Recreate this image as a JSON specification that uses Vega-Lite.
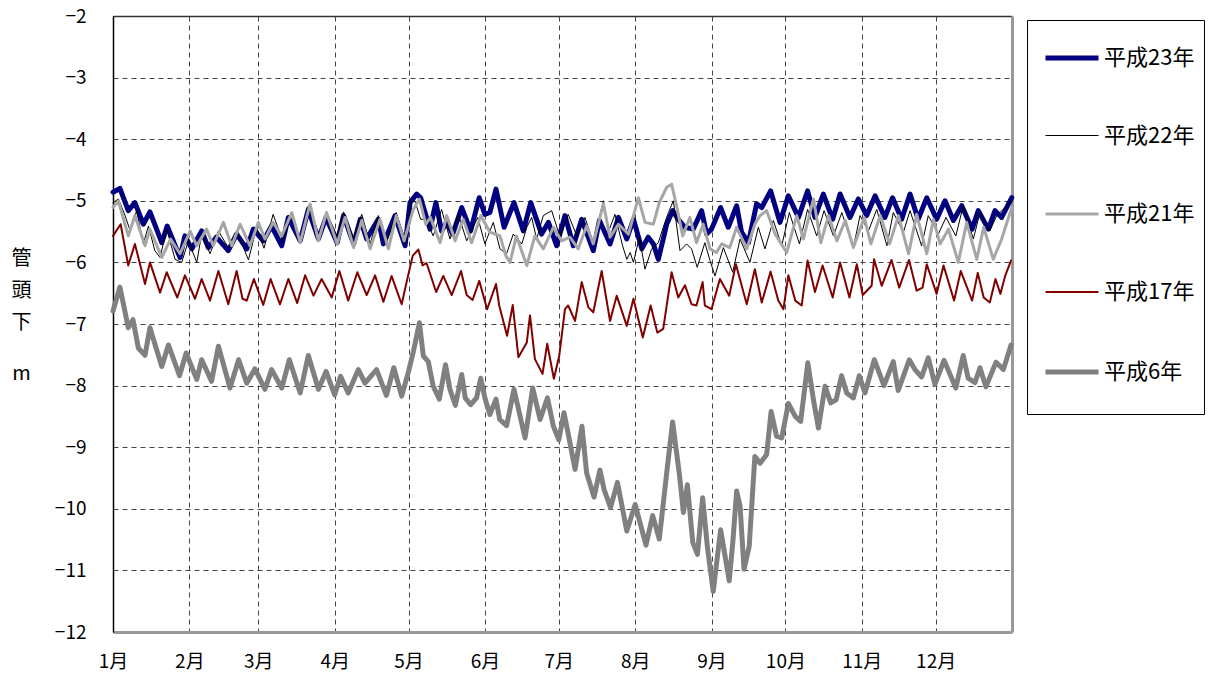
{
"$schema": "https://vega.github.io/schema/vega-lite/v6.json",
"autosize": "none",
"width": 899,
"height": 616,
"padding": {"left": 113, "top": 16, "right": 212, "bottom": 50},
"background": "white",
"config": {
  "view": {"stroke": null},
  "legend": {"padding": 9, "strokeColor": "black", "fillColor": "white", "symbolType": "stroke", "symbolSize": 2809, "labelFont": "Noto Sans CJK JP", "labelFontSize": 22, "labelColor": "black", "labelOffset": 3, "rowPadding": 39.5, "symbolOffset": 7, "labelLimit": 200, "cornerRadius": 0, "strokeWidth": 1, "titleOrient": "bottom", "titleFont": "Noto Sans CJK JP", "titleFontSize": 12.4, "titlePadding": 9}
},
"data": {"values": [
{"s":"平成23年","d":0,"v":-4.86},{"s":"平成23年","d":2.8,"v":-4.8},{"s":"平成23年","d":6.2,"v":-5.16},{"s":"平成23年","d":8.9,"v":-5.03},{"s":"平成23年","d":12.3,"v":-5.38},{"s":"平成23年","d":15,"v":-5.18},{"s":"平成23年","d":19.8,"v":-5.68},{"s":"平成23年","d":22,"v":-5.41},{"s":"平成23年","d":27.2,"v":-5.92},{"s":"平成23年","d":29.2,"v":-5.57},{"s":"平成23年","d":32,"v":-5.78},{"s":"平成23年","d":36,"v":-5.49},{"s":"平成23年","d":38.7,"v":-5.76},{"s":"平成23年","d":42,"v":-5.59},{"s":"平成23年","d":46.8,"v":-5.81},{"s":"平成23年","d":50.2,"v":-5.54},{"s":"平成23年","d":54.3,"v":-5.78},{"s":"平成23年","d":57,"v":-5.46},{"s":"平成23年","d":61,"v":-5.65},{"s":"平成23年","d":64.4,"v":-5.41},{"s":"平成23年","d":68.5,"v":-5.73},{"s":"平成23年","d":71.2,"v":-5.27},{"s":"平成23年","d":76,"v":-5.65},{"s":"平成23年","d":79.3,"v":-5.14},{"s":"平成23年","d":83.4,"v":-5.62},{"s":"平成23年","d":86.5,"v":-5.27},{"s":"平成23年","d":91,"v":-5.68},{"s":"平成23年","d":93.6,"v":-5.24},{"s":"平成23年","d":97.7,"v":-5.7},{"s":"平成23年","d":100.4,"v":-5.3},{"s":"平成23年","d":103,"v":-5.62},{"s":"平成23年","d":107.7,"v":-5.3},{"s":"平成23年","d":109.8,"v":-5.7},{"s":"平成23年","d":114.5,"v":-5.24},{"s":"平成23年","d":118.6,"v":-5.73},{"s":"平成23年","d":120.6,"v":-5.03},{"s":"平成23年","d":123.3,"v":-4.89},{"s":"平成23年","d":124.9,"v":-4.95},{"s":"平成23年","d":126.7,"v":-5.19},{"s":"平成23年","d":128.7,"v":-5.46},{"s":"平成23年","d":131.1,"v":-5.03},{"s":"平成23年","d":133.4,"v":-5.49},{"s":"平成23年","d":135.5,"v":-5.35},{"s":"平成23年","d":137.9,"v":-5.54},{"s":"平成23年","d":141.6,"v":-5.11},{"s":"平成23年","d":145.2,"v":-5.49},{"s":"平成23年","d":148.7,"v":-4.95},{"s":"平成23年","d":151,"v":-5.22},{"s":"平成23年","d":153,"v":-5.19},{"s":"平成23年","d":155.5,"v":-4.81},{"s":"平成23年","d":158.8,"v":-5.43},{"s":"平成23年","d":162.8,"v":-5.03},{"s":"平成23年","d":166.6,"v":-5.49},{"s":"平成23年","d":169.6,"v":-5.03},{"s":"平成23年","d":174,"v":-5.54},{"s":"平成23年","d":176.8,"v":-5.35},{"s":"平成23年","d":180.1,"v":-5.73},{"s":"平成23年","d":183.5,"v":-5.24},{"s":"平成23年","d":186.9,"v":-5.73},{"s":"平成23年","d":190.3,"v":-5.3},{"s":"平成23年","d":195,"v":-5.81},{"s":"平成23年","d":197.5,"v":-5.32},{"s":"平成23年","d":201.8,"v":-5.7},{"s":"平成23年","d":205.2,"v":-5.27},{"s":"平成23年","d":208.6,"v":-5.62},{"s":"平成23年","d":211.3,"v":-5.3},{"s":"平成23年","d":214.7,"v":-5.78},{"s":"平成23年","d":217.3,"v":-5.59},{"s":"平成23年","d":219.4,"v":-5.7},{"s":"平成23年","d":221.4,"v":-5.95},{"s":"平成23年","d":223.4,"v":-5.62},{"s":"平成23年","d":224.8,"v":-5.38},{"s":"平成23年","d":227.2,"v":-5.16},{"s":"平成23年","d":229.5,"v":-5.3},{"s":"平成23年","d":232.2,"v":-5.43},{"s":"平成23年","d":235.6,"v":-5.46},{"s":"平成23年","d":239,"v":-5.16},{"s":"平成23年","d":241,"v":-5.54},{"s":"平成23年","d":243,"v":-5.46},{"s":"平成23年","d":246.7,"v":-5.11},{"s":"平成23年","d":249.8,"v":-5.43},{"s":"平成23年","d":253.2,"v":-5.08},{"s":"平成23年","d":255.2,"v":-5.51},{"s":"平成23年","d":258,"v":-5.68},{"s":"平成23年","d":261.3,"v":-5.05},{"s":"平成23年","d":263.4,"v":-5.11},{"s":"平成23年","d":267,"v":-4.84},{"s":"平成23年","d":270.8,"v":-5.35},{"s":"平成23年","d":274.2,"v":-4.92},{"s":"平成23年","d":278.3,"v":-5.27},{"s":"平成23年","d":282,"v":-4.84},{"s":"平成23年","d":285,"v":-5.27},{"s":"平成23年","d":288.4,"v":-4.89},{"s":"平成23年","d":292.2,"v":-5.3},{"s":"平成23年","d":295.2,"v":-4.89},{"s":"平成23年","d":299.2,"v":-5.27},{"s":"平成23年","d":302.6,"v":-4.97},{"s":"平成23年","d":306,"v":-5.24},{"s":"平成23年","d":309.4,"v":-4.92},{"s":"平成23年","d":313.4,"v":-5.27},{"s":"平成23年","d":316.5,"v":-4.95},{"s":"平成23年","d":320.2,"v":-5.3},{"s":"平成23年","d":323.6,"v":-4.89},{"s":"平成23年","d":326.9,"v":-5.3},{"s":"平成23年","d":330.4,"v":-4.95},{"s":"平成23年","d":334.4,"v":-5.3},{"s":"平成23年","d":337.8,"v":-5.0},{"s":"平成23年","d":341.2,"v":-5.32},{"s":"平成23年","d":344.6,"v":-5.08},{"s":"平成23年","d":348.8,"v":-5.46},{"s":"平成23年","d":351.3,"v":-5.16},{"s":"平成23年","d":355.4,"v":-5.46},{"s":"平成23年","d":358.1,"v":-5.16},{"s":"平成23年","d":360.8,"v":-5.27},{"s":"平成23年","d":364.9,"v":-4.95},
{"s":"平成22年","d":0,"v":-5.03},{"s":"平成22年","d":2.2,"v":-4.97},{"s":"平成22年","d":4.9,"v":-5.24},{"s":"平成22年","d":7,"v":-5.49},{"s":"平成22年","d":9.6,"v":-5.16},{"s":"平成22年","d":12.3,"v":-5.7},{"s":"平成22年","d":14.4,"v":-5.41},{"s":"平成22年","d":17,"v":-5.81},{"s":"平成22年","d":19.1,"v":-5.92},{"s":"平成22年","d":21.8,"v":-5.46},{"s":"平成22年","d":25.2,"v":-5.95},{"s":"平成22年","d":27.9,"v":-6.0},{"s":"平成22年","d":30.6,"v":-5.65},{"s":"平成22年","d":34,"v":-6.0},{"s":"平成22年","d":36,"v":-5.54},{"s":"平成22年","d":39.4,"v":-5.86},{"s":"平成22年","d":42.8,"v":-5.49},{"s":"平成22年","d":46.8,"v":-5.76},{"s":"平成22年","d":50.2,"v":-5.49},{"s":"平成22年","d":55,"v":-5.96},{"s":"平成22年","d":58.3,"v":-5.43},{"s":"平成22年","d":61.3,"v":-5.77},{"s":"平成22年","d":65,"v":-5.22},{"s":"平成22年","d":68.9,"v":-5.65},{"s":"平成22年","d":72.6,"v":-5.19},{"s":"平成22年","d":76,"v":-5.65},{"s":"平成22年","d":79.3,"v":-5.08},{"s":"平成22年","d":83.4,"v":-5.59},{"s":"平成22年","d":86.7,"v":-5.19},{"s":"平成22年","d":91,"v":-5.57},{"s":"平成22年","d":93.6,"v":-5.18},{"s":"平成22年","d":97.7,"v":-5.62},{"s":"平成22年","d":101,"v":-5.22},{"s":"平成22年","d":104.4,"v":-5.7},{"s":"平成22年","d":107.7,"v":-5.24},{"s":"平成22年","d":111,"v":-5.68},{"s":"平成22年","d":115,"v":-5.19},{"s":"平成22年","d":118.6,"v":-5.7},{"s":"平成22年","d":121.3,"v":-5.03},{"s":"平成22年","d":122.6,"v":-5.0},{"s":"平成22年","d":124.9,"v":-5.3},{"s":"平成22年","d":127,"v":-5.3},{"s":"平成22年","d":130,"v":-5.57},{"s":"平成22年","d":133.4,"v":-5.14},{"s":"平成22年","d":136.8,"v":-5.62},{"s":"平成22年","d":140.2,"v":-5.22},{"s":"平成22年","d":143.6,"v":-5.65},{"s":"平成22年","d":148.1,"v":-5.27},{"s":"平成22年","d":151,"v":-5.7},{"s":"平成22年","d":154.4,"v":-5.35},{"s":"平成22年","d":157.1,"v":-5.78},{"s":"平成22年","d":159.8,"v":-5.86},{"s":"平成22年","d":162.5,"v":-5.54},{"s":"平成22年","d":166,"v":-5.7},{"s":"平成22年","d":168,"v":-5.43},{"s":"平成22年","d":170,"v":-5.27},{"s":"平成22年","d":172,"v":-5.62},{"s":"平成22年","d":174.7,"v":-5.24},{"s":"平成22年","d":178.1,"v":-5.16},{"s":"平成22年","d":181.5,"v":-5.59},{"s":"平成22年","d":184.8,"v":-5.22},{"s":"平成22年","d":188.3,"v":-5.57},{"s":"平成22年","d":191.6,"v":-5.27},{"s":"平成22年","d":195,"v":-5.68},{"s":"平成22年","d":199.1,"v":-5.0},{"s":"平成22年","d":201.1,"v":-5.51},{"s":"平成22年","d":203.8,"v":-5.22},{"s":"平成22年","d":206.9,"v":-5.73},{"s":"平成22年","d":208.6,"v":-5.95},{"s":"平成22年","d":210,"v":-5.84},{"s":"平成22年","d":211.3,"v":-6.0},{"s":"平成22年","d":213.7,"v":-5.59},{"s":"平成22年","d":216,"v":-6.11},{"s":"平成22年","d":218.7,"v":-5.78},{"s":"平成22年","d":221.4,"v":-5.68},{"s":"平成22年","d":223.4,"v":-5.43},{"s":"平成22年","d":225.5,"v":-5.19},{"s":"平成22年","d":227.5,"v":-5.0},{"s":"平成22年","d":230.2,"v":-5.81},{"s":"平成22年","d":232.9,"v":-5.7},{"s":"平成22年","d":234.9,"v":-5.78},{"s":"平成22年","d":237.2,"v":-6.08},{"s":"平成22年","d":240.3,"v":-5.68},{"s":"平成22年","d":242.4,"v":-5.97},{"s":"平成22年","d":244.4,"v":-6.22},{"s":"平成22年","d":247.8,"v":-5.76},{"s":"平成22年","d":251.6,"v":-6.16},{"s":"平成22年","d":254.6,"v":-5.62},{"s":"平成22年","d":258.6,"v":-6.0},{"s":"平成22年","d":262,"v":-5.43},{"s":"平成22年","d":264.7,"v":-5.78},{"s":"平成22年","d":268.1,"v":-5.32},{"s":"平成22年","d":271.5,"v":-5.73},{"s":"平成22年","d":274.6,"v":-5.19},{"s":"平成22年","d":278.7,"v":-5.7},{"s":"平成22年","d":282,"v":-5.14},{"s":"平成22年","d":285.7,"v":-5.57},{"s":"平成22年","d":288.7,"v":-5.16},{"s":"平成22年","d":292.5,"v":-5.57},{"s":"平成22年","d":295.9,"v":-5.19},{"s":"平成22年","d":300.6,"v":-5.76},{"s":"平成22年","d":303.3,"v":-5.24},{"s":"平成22年","d":306.7,"v":-5.49},{"s":"平成22年","d":310.1,"v":-5.14},{"s":"平成22年","d":314.2,"v":-5.73},{"s":"平成22年","d":316.8,"v":-5.19},{"s":"平成22年","d":320.9,"v":-5.51},{"s":"平成22年","d":323.6,"v":-5.16},{"s":"平成22年","d":328.3,"v":-5.73},{"s":"平成22年","d":331,"v":-5.24},{"s":"平成22年","d":335.1,"v":-5.54},{"s":"平成22年","d":338.2,"v":-5.27},{"s":"平成22年","d":342.2,"v":-5.57},{"s":"平成22年","d":345.2,"v":-5.08},{"s":"平成22年","d":349.3,"v":-5.62},{"s":"平成22年","d":352,"v":-5.19},{"s":"平成22年","d":356,"v":-5.49},{"s":"平成22年","d":358.8,"v":-5.24},{"s":"平成22年","d":364.9,"v":-5.0},
{"s":"平成21年","d":0,"v":-5.11},{"s":"平成21年","d":2.2,"v":-5.0},{"s":"平成21年","d":6.2,"v":-5.57},{"s":"平成21年","d":8.9,"v":-5.24},{"s":"平成21年","d":13,"v":-5.73},{"s":"平成21年","d":15,"v":-5.46},{"s":"平成21年","d":19.8,"v":-5.92},{"s":"平成21年","d":23.4,"v":-5.62},{"s":"平成21年","d":27.2,"v":-5.86},{"s":"平成21年","d":31.3,"v":-5.49},{"s":"平成21年","d":34,"v":-5.73},{"s":"平成21年","d":38,"v":-5.46},{"s":"平成21年","d":40.7,"v":-5.73},{"s":"平成21年","d":44.8,"v":-5.35},{"s":"平成21年","d":48.2,"v":-5.73},{"s":"平成21年","d":51.6,"v":-5.38},{"s":"平成21年","d":55.6,"v":-5.73},{"s":"平成21年","d":59,"v":-5.35},{"s":"平成21年","d":61.7,"v":-5.62},{"s":"平成21年","d":65,"v":-5.35},{"s":"平成21年","d":68.5,"v":-5.57},{"s":"平成21年","d":72.6,"v":-5.19},{"s":"平成21年","d":76,"v":-5.68},{"s":"平成21年","d":80,"v":-5.05},{"s":"平成21年","d":83.4,"v":-5.65},{"s":"平成21年","d":86.7,"v":-5.19},{"s":"平成21年","d":91,"v":-5.7},{"s":"平成21年","d":94.2,"v":-5.27},{"s":"平成21年","d":97.7,"v":-5.76},{"s":"平成21年","d":101,"v":-5.32},{"s":"平成21年","d":104.4,"v":-5.78},{"s":"平成21年","d":108.4,"v":-5.3},{"s":"平成21年","d":111.8,"v":-5.78},{"s":"平成21年","d":115,"v":-5.24},{"s":"平成21年","d":118.2,"v":-5.65},{"s":"平成21年","d":121.9,"v":-5.14},{"s":"平成21年","d":124.4,"v":-4.97},{"s":"平成21年","d":127,"v":-5.38},{"s":"平成21年","d":128.9,"v":-5.27},{"s":"平成21年","d":132.8,"v":-5.68},{"s":"平成21年","d":135.5,"v":-5.24},{"s":"平成21年","d":138.9,"v":-5.65},{"s":"平成21年","d":142.2,"v":-5.3},{"s":"平成21年","d":145.6,"v":-5.68},{"s":"平成21年","d":149.4,"v":-5.24},{"s":"平成21年","d":153,"v":-5.51},{"s":"平成21年","d":157.1,"v":-5.57},{"s":"平成21年","d":159.5,"v":-5.89},{"s":"平成21年","d":161.2,"v":-6.0},{"s":"平成21年","d":163.8,"v":-5.57},{"s":"平成21年","d":168,"v":-6.05},{"s":"平成21年","d":171.3,"v":-5.57},{"s":"平成21年","d":174.7,"v":-5.78},{"s":"平成21年","d":178.8,"v":-5.43},{"s":"平成21年","d":182.1,"v":-5.65},{"s":"平成21年","d":185.5,"v":-5.59},{"s":"平成21年","d":188.9,"v":-5.78},{"s":"平成21年","d":192.3,"v":-5.41},{"s":"平成21年","d":195,"v":-5.7},{"s":"平成21年","d":199.1,"v":-5.05},{"s":"平成21年","d":201.8,"v":-5.59},{"s":"平成21年","d":205.2,"v":-5.38},{"s":"平成21年","d":209.3,"v":-5.54},{"s":"平成21年","d":213.3,"v":-4.95},{"s":"平成21年","d":216,"v":-5.35},{"s":"平成21年","d":219.4,"v":-5.38},{"s":"平成21年","d":221.8,"v":-5.03},{"s":"平成21年","d":224.8,"v":-4.78},{"s":"平成21年","d":226.8,"v":-4.73},{"s":"平成21年","d":228.8,"v":-5.08},{"s":"平成21年","d":231.3,"v":-5.57},{"s":"平成21年","d":234.2,"v":-5.27},{"s":"平成21年","d":236.9,"v":-5.68},{"s":"平成21年","d":239.6,"v":-5.38},{"s":"平成21年","d":242.4,"v":-5.78},{"s":"平成21年","d":245,"v":-5.84},{"s":"平成21年","d":247.1,"v":-5.7},{"s":"平成21年","d":250.4,"v":-5.76},{"s":"平成21年","d":253.2,"v":-5.43},{"s":"平成21年","d":257.3,"v":-5.78},{"s":"平成21年","d":260.6,"v":-5.38},{"s":"平成21年","d":262.7,"v":-5.24},{"s":"平成21年","d":265.4,"v":-5.16},{"s":"平成21年","d":268.8,"v":-5.54},{"s":"平成21年","d":273.5,"v":-5.84},{"s":"平成21年","d":277.6,"v":-5.24},{"s":"平成21年","d":280.3,"v":-5.62},{"s":"平成21年","d":284.4,"v":-4.97},{"s":"平成21年","d":287.4,"v":-5.68},{"s":"平成21年","d":290.5,"v":-5.24},{"s":"平成21年","d":293.9,"v":-5.65},{"s":"平成21年","d":297.3,"v":-5.32},{"s":"平成21年","d":300.6,"v":-5.76},{"s":"平成21年","d":305,"v":-5.27},{"s":"平成21年","d":307.7,"v":-5.7},{"s":"平成21年","d":311.5,"v":-5.24},{"s":"平成21年","d":315.3,"v":-5.7},{"s":"平成21年","d":318.9,"v":-5.24},{"s":"平成21年","d":323,"v":-5.86},{"s":"平成21年","d":326.3,"v":-5.22},{"s":"平成21年","d":330.4,"v":-5.86},{"s":"平成21年","d":333.1,"v":-5.3},{"s":"平成21年","d":335.8,"v":-5.7},{"s":"平成21年","d":339.2,"v":-5.46},{"s":"平成21年","d":343.2,"v":-6.0},{"s":"平成21年","d":346.6,"v":-5.35},{"s":"平成21年","d":350.7,"v":-5.95},{"s":"平成21年","d":353.5,"v":-5.43},{"s":"平成21年","d":357.4,"v":-5.95},{"s":"平成21年","d":360.8,"v":-5.62},{"s":"平成21年","d":364.9,"v":-5.11},
{"s":"平成17年","d":0,"v":-5.57},{"s":"平成17年","d":3.1,"v":-5.38},{"s":"平成17年","d":6.2,"v":-6.05},{"s":"平成17年","d":8.9,"v":-5.7},{"s":"平成17年","d":13,"v":-6.35},{"s":"平成17年","d":15,"v":-6.0},{"s":"平成17年","d":19.1,"v":-6.49},{"s":"平成17年","d":21.8,"v":-6.16},{"s":"平成17年","d":26.1,"v":-6.57},{"s":"平成17年","d":29.2,"v":-6.21},{"s":"平成17年","d":33.3,"v":-6.59},{"s":"平成17年","d":36,"v":-6.27},{"s":"平成17年","d":39.4,"v":-6.62},{"s":"平成17年","d":42.8,"v":-6.14},{"s":"平成17年","d":46.8,"v":-6.68},{"s":"平成17年","d":50.2,"v":-6.14},{"s":"平成17年","d":52.6,"v":-6.59},{"s":"平成17年","d":54.3,"v":-6.62},{"s":"平成17年","d":57.2,"v":-6.27},{"s":"平成17年","d":61,"v":-6.69},{"s":"平成17年","d":64,"v":-6.27},{"s":"平成17年","d":67.8,"v":-6.68},{"s":"平成17年","d":71.2,"v":-6.27},{"s":"平成17年","d":74.8,"v":-6.66},{"s":"平成17年","d":78,"v":-6.21},{"s":"平成17年","d":81.4,"v":-6.54},{"s":"平成17年","d":84.7,"v":-6.27},{"s":"平成17年","d":88.8,"v":-6.57},{"s":"平成17年","d":91.9,"v":-6.14},{"s":"平成17年","d":95.5,"v":-6.62},{"s":"平成17年","d":99.2,"v":-6.16},{"s":"平成17年","d":103,"v":-6.53},{"s":"平成17年","d":106.4,"v":-6.21},{"s":"平成17年","d":109.8,"v":-6.64},{"s":"平成17年","d":113.1,"v":-6.22},{"s":"平成17年","d":117.2,"v":-6.68},{"s":"平成17年","d":119.2,"v":-6.32},{"s":"平成17年","d":121.7,"v":-5.89},{"s":"平成17年","d":124,"v":-5.79},{"s":"平成17年","d":125.7,"v":-6.05},{"s":"平成17年","d":127.3,"v":-6.01},{"s":"平成17年","d":131.2,"v":-6.48},{"s":"平成17年","d":134.1,"v":-6.22},{"s":"平成17年","d":137.5,"v":-6.53},{"s":"平成17年","d":141.3,"v":-6.14},{"s":"平成17年","d":143.6,"v":-6.53},{"s":"平成17年","d":146,"v":-6.61},{"s":"平成17年","d":148.7,"v":-6.3},{"s":"平成17年","d":151.9,"v":-6.76},{"s":"平成17年","d":155.5,"v":-6.35},{"s":"平成17年","d":156.8,"v":-6.7},{"s":"平成17年","d":160,"v":-7.19},{"s":"平成17年","d":162.3,"v":-6.69},{"s":"平成17年","d":164.6,"v":-7.54},{"s":"平成17年","d":168,"v":-7.3},{"s":"平成17年","d":169.3,"v":-6.86},{"s":"平成17年","d":171.3,"v":-7.57},{"s":"平成17年","d":174.4,"v":-7.81},{"s":"平成17年","d":176.3,"v":-7.32},{"s":"平成17年","d":179,"v":-7.89},{"s":"平成17年","d":181.2,"v":-7.51},{"s":"平成17年","d":183.5,"v":-6.76},{"s":"平成17年","d":184.8,"v":-6.7},{"s":"平成17年","d":187.6,"v":-6.95},{"s":"平成17年","d":190.3,"v":-6.32},{"s":"平成17年","d":193,"v":-6.73},{"s":"平成17年","d":195,"v":-6.81},{"s":"平成17年","d":198.4,"v":-6.14},{"s":"平成17年","d":201.8,"v":-6.95},{"s":"平成17年","d":204.5,"v":-6.54},{"s":"平成17年","d":208.6,"v":-7.03},{"s":"平成17年","d":211.3,"v":-6.59},{"s":"平成17年","d":215.1,"v":-7.22},{"s":"平成17年","d":218.3,"v":-6.7},{"s":"平成17年","d":221,"v":-7.14},{"s":"平成17年","d":223.4,"v":-7.08},{"s":"平成17年","d":226.8,"v":-6.16},{"s":"平成17年","d":229.5,"v":-6.57},{"s":"平成17年","d":232.2,"v":-6.37},{"s":"平成17年","d":234.9,"v":-6.68},{"s":"平成17年","d":236.9,"v":-6.7},{"s":"平成17年","d":239.4,"v":-6.32},{"s":"平成17年","d":240.3,"v":-6.7},{"s":"平成17年","d":243,"v":-6.76},{"s":"平成17年","d":246.4,"v":-6.27},{"s":"平成17年","d":250.2,"v":-6.54},{"s":"平成17年","d":252.9,"v":-6.03},{"s":"平成17年","d":257.3,"v":-6.68},{"s":"平成17年","d":260.6,"v":-6.11},{"s":"平成17年","d":263.4,"v":-6.65},{"s":"平成17年","d":267,"v":-6.15},{"s":"平成17年","d":270.1,"v":-6.62},{"s":"平成17年","d":272.2,"v":-6.76},{"s":"平成17年","d":274.2,"v":-6.21},{"s":"平成17年","d":277,"v":-6.62},{"s":"平成17年","d":279.6,"v":-6.7},{"s":"平成17年","d":282,"v":-5.97},{"s":"平成17年","d":285,"v":-6.48},{"s":"平成17年","d":288.1,"v":-6.05},{"s":"平成17年","d":292.2,"v":-6.57},{"s":"平成17年","d":295.2,"v":-6.0},{"s":"平成17年","d":299,"v":-6.57},{"s":"平成17年","d":302,"v":-6.03},{"s":"平成17年","d":304.4,"v":-6.53},{"s":"平成17年","d":308,"v":-6.38},{"s":"平成17年","d":309,"v":-5.95},{"s":"平成17年","d":312.1,"v":-6.38},{"s":"平成17年","d":316.1,"v":-5.96},{"s":"平成17年","d":319.2,"v":-6.41},{"s":"平成17年","d":323.2,"v":-5.96},{"s":"平成17年","d":326.3,"v":-6.46},{"s":"平成17年","d":328.7,"v":-6.41},{"s":"平成17年","d":330.4,"v":-6.03},{"s":"平成17年","d":334.4,"v":-6.51},{"s":"平成17年","d":337.2,"v":-6.05},{"s":"平成17年","d":341.5,"v":-6.62},{"s":"平成17年","d":344.2,"v":-6.14},{"s":"平成17年","d":348.8,"v":-6.62},{"s":"平成17年","d":351.1,"v":-6.17},{"s":"平成17年","d":353.5,"v":-6.57},{"s":"平成17年","d":356,"v":-6.65},{"s":"平成17年","d":358.3,"v":-6.27},{"s":"平成17年","d":360.3,"v":-6.51},{"s":"平成17年","d":362.3,"v":-6.21},{"s":"平成17年","d":364.6,"v":-5.97},
{"s":"平成6年","d":0,"v":-6.79},{"s":"平成6年","d":2.8,"v":-6.4},{"s":"平成6年","d":6.2,"v":-7.06},{"s":"平成6年","d":8.1,"v":-6.93},{"s":"平成6年","d":10.3,"v":-7.39},{"s":"平成6年","d":13,"v":-7.51},{"s":"平成6年","d":15,"v":-7.06},{"s":"平成6年","d":19.8,"v":-7.69},{"s":"平成6年","d":22.5,"v":-7.34},{"s":"平成6年","d":27,"v":-7.84},{"s":"平成6年","d":29.7,"v":-7.47},{"s":"平成6年","d":34,"v":-7.9},{"s":"平成6年","d":36,"v":-7.58},{"s":"平成6年","d":40,"v":-7.93},{"s":"平成6年","d":42.8,"v":-7.36},{"s":"平成6年","d":47.5,"v":-8.04},{"s":"平成6年","d":51,"v":-7.58},{"s":"平成6年","d":54.3,"v":-7.96},{"s":"平成6年","d":57.6,"v":-7.73},{"s":"平成6年","d":61.7,"v":-8.06},{"s":"平成6年","d":64.4,"v":-7.74},{"s":"平成6年","d":68.5,"v":-8.04},{"s":"平成6年","d":71.6,"v":-7.58},{"s":"平成6年","d":76,"v":-8.12},{"s":"平成6年","d":79.3,"v":-7.51},{"s":"平成6年","d":83.4,"v":-8.06},{"s":"平成6年","d":86.5,"v":-7.77},{"s":"平成6年","d":90,"v":-8.15},{"s":"平成6年","d":92.4,"v":-7.85},{"s":"平成6年","d":95.5,"v":-8.12},{"s":"平成6年","d":99.6,"v":-7.74},{"s":"平成6年","d":102.3,"v":-7.96},{"s":"平成6年","d":107,"v":-7.74},{"s":"平成6年","d":111,"v":-8.16},{"s":"平成6年","d":114,"v":-7.71},{"s":"平成6年","d":117.2,"v":-8.17},{"s":"平成6年","d":120,"v":-7.77},{"s":"平成6年","d":122,"v":-7.44},{"s":"平成6年","d":124.4,"v":-6.98},{"s":"平成6年","d":126,"v":-7.52},{"s":"平成6年","d":128,"v":-7.61},{"s":"平成6年","d":130,"v":-8.01},{"s":"平成6年","d":132.5,"v":-8.22},{"s":"平成6年","d":135,"v":-7.66},{"s":"平成6年","d":136.8,"v":-8.06},{"s":"平成6年","d":139,"v":-8.32},{"s":"平成6年","d":141.6,"v":-7.82},{"s":"平成6年","d":143,"v":-8.2},{"s":"平成6年","d":145.2,"v":-8.31},{"s":"平成6年","d":147.6,"v":-8.2},{"s":"平成6年","d":149.3,"v":-7.88},{"s":"平成6年","d":151,"v":-8.2},{"s":"平成6年","d":153,"v":-8.47},{"s":"平成6年","d":155.5,"v":-8.22},{"s":"平成6年","d":157,"v":-8.55},{"s":"平成6年","d":159.8,"v":-8.65},{"s":"平成6年","d":162.8,"v":-8.06},{"s":"平成6年","d":167.3,"v":-8.85},{"s":"平成6年","d":170.4,"v":-8.04},{"s":"平成6年","d":173.4,"v":-8.55},{"s":"平成6年","d":176.4,"v":-8.2},{"s":"平成6年","d":178.8,"v":-8.66},{"s":"平成6年","d":181,"v":-8.88},{"s":"平成6年","d":183.1,"v":-8.44},{"s":"平成6年","d":185,"v":-8.82},{"s":"平成6年","d":187.6,"v":-9.36},{"s":"平成6年","d":190.4,"v":-8.66},{"s":"平成6年","d":192.3,"v":-9.42},{"s":"平成6年","d":195.3,"v":-9.81},{"s":"平成6年","d":197.7,"v":-9.37},{"s":"平成6年","d":199.4,"v":-9.69},{"s":"平成6年","d":202,"v":-9.98},{"s":"平成6年","d":204.8,"v":-9.57},{"s":"平成6年","d":208.6,"v":-10.36},{"s":"平成6年","d":212,"v":-9.93},{"s":"平成6年","d":216.4,"v":-10.59},{"s":"平成6年","d":219.1,"v":-10.11},{"s":"平成6年","d":221.8,"v":-10.49},{"s":"平成6年","d":224.8,"v":-9.42},{"s":"平成6年","d":227.2,"v":-8.59},{"s":"平成6年","d":229.9,"v":-9.42},{"s":"平成6年","d":231.6,"v":-10.06},{"s":"平成6年","d":233.2,"v":-9.61},{"s":"平成6年","d":235.4,"v":-10.55},{"s":"平成6年","d":237.3,"v":-10.74},{"s":"平成6年","d":239.4,"v":-9.82},{"s":"平成6年","d":241.3,"v":-10.61},{"s":"平成6年","d":243.7,"v":-11.34},{"s":"平成6年","d":246.7,"v":-10.34},{"s":"平成6年","d":250.2,"v":-11.17},{"s":"平成6年","d":251.7,"v":-10.52},{"s":"平成6年","d":253.2,"v":-9.71},{"s":"平成6年","d":254.6,"v":-9.96},{"s":"平成6年","d":256.2,"v":-10.98},{"s":"平成6年","d":258.3,"v":-10.61},{"s":"平成6年","d":260.6,"v":-9.15},{"s":"平成6年","d":262.7,"v":-9.26},{"s":"平成6年","d":265.4,"v":-9.12},{"s":"平成6年","d":267.2,"v":-8.42},{"s":"平成6年","d":269.4,"v":-8.82},{"s":"平成6年","d":271.5,"v":-8.85},{"s":"平成6年","d":274.2,"v":-8.29},{"s":"平成6年","d":277,"v":-8.5},{"s":"平成6年","d":279.2,"v":-8.58},{"s":"平成6年","d":282.1,"v":-7.63},{"s":"平成6年","d":284.4,"v":-8.23},{"s":"平成6年","d":286.4,"v":-8.69},{"s":"平成6年","d":289.1,"v":-8.01},{"s":"平成6年","d":291.4,"v":-8.28},{"s":"平成6年","d":293.6,"v":-8.23},{"s":"平成6年","d":295.8,"v":-7.84},{"s":"平成6年","d":297.9,"v":-8.12},{"s":"平成6年","d":300.6,"v":-8.2},{"s":"平成6年","d":303,"v":-7.84},{"s":"平成6年","d":305.3,"v":-8.12},{"s":"平成6年","d":309.1,"v":-7.58},{"s":"平成6年","d":313,"v":-8.0},{"s":"平成6年","d":316.8,"v":-7.61},{"s":"平成6年","d":318.8,"v":-8.08},{"s":"平成6年","d":323.3,"v":-7.58},{"s":"平成6年","d":325.6,"v":-7.74},{"s":"平成6年","d":328.3,"v":-7.86},{"s":"平成6年","d":331,"v":-7.55},{"s":"平成6年","d":333.7,"v":-7.98},{"s":"平成6年","d":337.4,"v":-7.59},{"s":"平成6年","d":342.2,"v":-8.04},{"s":"平成6年","d":345.2,"v":-7.51},{"s":"平成6年","d":347.2,"v":-7.88},{"s":"平成6年","d":350,"v":-7.95},{"s":"平成6年","d":352,"v":-7.71},{"s":"平成6年","d":354.4,"v":-8.02},{"s":"平成6年","d":358.5,"v":-7.62},{"s":"平成6年","d":361.5,"v":-7.74},{"s":"平成6年","d":364.6,"v":-7.34}
]},
"layer": [
  {
    "transform": [{"filter": {"field": "s", "oneOf": ["平成23年", "平成22年", "平成21年"]}}],
    "mark": {"type": "line", "strokeJoin": "round", "strokeCap": "round"},
    "encoding": {
      "x": {"field": "d", "type": "quantitative", "scale": {"domain": [0, 365], "nice": false, "zero": false},
        "axis": {"orient": "bottom", "title": null, "values": [0,31,59,90,120,151,181,212,243,273,304,334],
          "labelExpr": "['1月','2月','3月','4月','5月','6月','7月','8月','9月','10月','11月','12月'][indexof([0,31,59,90,120,151,181,212,243,273,304,334], datum.value)]",
          "grid": true, "gridDash": [5, 4], "gridColor": "#444", "gridWidth": 1, "gridOpacity": 1,
          "ticks": false, "labelPadding": 20, "labelFont": "Noto Sans CJK JP", "labelFontSize": 19, "labelColor": "black",
          "labelFlush": false, "labelOverlap": false, "domainColor": "#999", "domainWidth": 3}},
      "y": {"field": "v", "type": "quantitative", "scale": {"domain": [-12, -2], "nice": false, "zero": false},
        "axis": {"orient": "left", "values": [-12,-11,-10,-9,-8,-7,-6,-5,-4,-3,-2],
          "title": ["管", "頭", "下"], "titleAngle": 0, "titleX": -92, "titleY": 232, "titleBaseline": "top", "titleAlign": "center",
          "titleFont": "Noto Sans CJK JP", "titleFontSize": 20, "titleFontWeight": "normal", "titleColor": "black", "titleLineHeight": 32,
          "grid": true, "gridDash": [5, 4], "gridColor": "#444", "gridWidth": 1, "gridOpacity": 1,
          "ticks": false, "labelPadding": 27, "labelFont": "Noto Sans CJK JP", "labelFontSize": 19, "labelColor": "black",
          "labelFlush": false, "labelOverlap": false, "domainColor": "black", "domainWidth": 1.5}},
      "color": {"field": "s", "type": "nominal",
        "scale": {"domain": ["平成23年", "平成22年", "平成21年", "平成17年", "平成6年"], "range": ["#000080", "#000000", "#A6A6A6", "#800000", "#808080"]},
        "legend": {"orient": "none", "legendX": 914, "legendY": 4, "title": "\u3000\u3000\u3000\u3000\u3000\u3000\u3000\u3000\u3000\u3000\u3000\u3000\u3000\u3000"}},
      "strokeWidth": {"field": "s", "type": "nominal",
        "scale": {"type": "ordinal", "domain": ["平成23年", "平成22年", "平成21年", "平成17年", "平成6年"], "range": [5, 1, 3, 2, 5]},
        "legend": {"orient": "none", "legendX": 914, "legendY": 4, "title": "\u3000\u3000\u3000\u3000\u3000\u3000\u3000\u3000\u3000\u3000\u3000\u3000\u3000\u3000"}}
    }
  },
  {
    "transform": [{"filter": {"field": "s", "oneOf": ["平成17年", "平成6年"]}}],
    "mark": {"type": "line", "strokeJoin": "round", "strokeCap": "round"},
    "encoding": {
      "x": {"field": "d", "type": "quantitative", "scale": {"domain": [0, 365], "nice": false, "zero": false},
        "axis": {"orient": "top", "title": null, "labels": false, "ticks": false, "grid": false, "domainColor": "#333", "domainWidth": 1.5}},
      "y": {"field": "v", "type": "quantitative", "scale": {"domain": [-12, -2], "nice": false, "zero": false},
        "axis": {"orient": "right", "title": "m", "titleAngle": 0, "titleX": -991, "titleY": 357, "titleBaseline": "middle", "titleAlign": "center",
          "titleFont": "Noto Sans CJK JP", "titleFontSize": 20, "titleFontWeight": "normal", "titleColor": "black",
          "labels": false, "ticks": false, "grid": false, "domainColor": "#999", "domainWidth": 3}},
      "color": {"field": "s", "type": "nominal",
        "scale": {"domain": ["平成23年", "平成22年", "平成21年", "平成17年", "平成6年"], "range": ["#000080", "#000000", "#A6A6A6", "#800000", "#808080"]},
        "legend": {"orient": "none", "legendX": 914, "legendY": 4, "title": "\u3000\u3000\u3000\u3000\u3000\u3000\u3000\u3000\u3000\u3000\u3000\u3000\u3000\u3000"}},
      "strokeWidth": {"field": "s", "type": "nominal",
        "scale": {"type": "ordinal", "domain": ["平成23年", "平成22年", "平成21年", "平成17年", "平成6年"], "range": [5, 1, 3, 2, 5]},
        "legend": {"orient": "none", "legendX": 914, "legendY": 4, "title": "\u3000\u3000\u3000\u3000\u3000\u3000\u3000\u3000\u3000\u3000\u3000\u3000\u3000\u3000"}}
    }
  }
],
"resolve": {"scale": {"x": "independent", "y": "independent"}, "axis": {"x": "independent", "y": "independent"}}
}
